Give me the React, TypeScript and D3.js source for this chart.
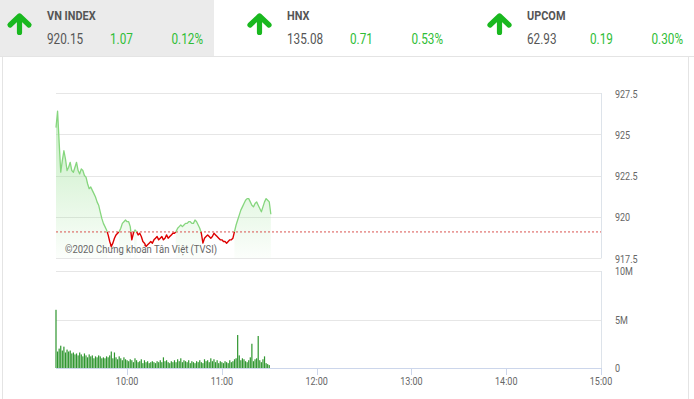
import React from "react";
import * as d3 from "d3";

// ---------- DATA ----------
const indexNames = ["VN INDEX", "HNX", "UPCOM"];
const indexValues = ["920.15", "135.08", "62.93"];
const indexChanges = ["1.07", "0.71", "0.19"];
const indexPercents = ["0.12%", "0.53%", "0.30%"];

const refPrice = 919.08;
const sessionStart = "09:15";
const sessionEnd = "15:00";
const dataStart = "09:15"; // one value per minute from this time

const priceValues = [
  925.4, 926.4, 924.5, 922.7, 923.4, 924.0, 923.5, 922.8, 923.0, 923.3,
  922.8, 922.7, 923.0, 923.3, 922.8, 922.6, 922.9, 922.8, 922.5, 922.4,
  922.0, 921.7, 921.8, 921.6, 921.4, 921.2, 920.9, 920.7, 920.3, 919.9,
  919.6, 919.4, 919.2, 918.9, 918.5, 918.2, 918.4, 918.7, 918.9, 919.0,
  919.1, 919.3, 919.6, 919.7, 919.8, 919.7, 919.7, 919.4, 918.6, 919.0,
  919.2, 919.1, 918.9, 919.0, 918.8, 918.5, 918.4, 918.2, 918.3, 918.4,
  918.5, 918.4, 918.6, 918.7, 918.8, 918.6, 918.7, 918.8, 918.6, 918.7,
  918.9, 918.7, 918.8, 918.9, 919.0, 919.0, 919.1, 919.3, 919.4, 919.5,
  919.4, 919.5, 919.6, 919.6, 919.7, 919.7, 919.6, 919.6, 919.8, 919.7,
  919.5, 919.3, 919.0, 918.4, 918.7, 918.8, 918.9, 918.8, 918.7, 918.8,
  919.0, 918.9, 918.8, 918.7, 918.6, 918.6, 918.5, 918.5, 918.4, 918.5,
  918.6, 918.6, 918.7, 919.1, 919.5, 919.8, 920.1, 920.4, 920.6, 920.8,
  921.0, 921.1, 921.1, 920.9, 920.7, 920.6, 920.8, 920.9, 920.7, 920.5,
  920.3, 920.6, 920.9, 921.1, 921.0, 920.9, 920.15,
];

// volume in millions, one bar per minute from dataStart
const volumeValues = [
  6.0,
  1.7, 2.0, 2.3, 1.8, 2.2, 1.6, 1.9, 1.7, 1.8, 1.5, 1.6, 1.4, 1.5, 1.3, 1.6,
  1.4, 1.2, 1.5, 1.3, 1.1, 1.4, 1.2, 1.3, 1.0, 1.2, 1.1, 1.3, 1.2, 1.0, 1.1,
  1.0, 1.2, 1.1, 1.3, 1.7, 1.0, 1.6, 1.1, 0.9, 1.2, 1.0, 0.8, 1.1, 0.9, 0.8,
  0.7, 0.9, 0.8, 0.6, 1.0, 0.8, 0.6, 0.7, 0.9, 0.5, 0.8, 0.6, 0.7, 0.5, 0.6,
  0.7, 0.6, 0.5, 0.7, 0.6, 0.8, 0.6, 1.1, 0.7, 0.8, 0.6, 0.5, 0.7, 0.6, 0.8,
  0.6, 0.9, 0.7, 1.0, 0.6, 0.8, 0.7, 0.6, 0.8, 0.5, 0.7, 0.6, 0.5, 0.7, 0.6,
  0.8, 0.6, 0.5, 0.9, 0.7, 0.8, 0.6, 1.0, 0.7, 0.9, 0.6, 0.8, 0.5, 0.7, 0.6,
  0.5, 0.7, 0.6, 0.5, 0.8, 0.6, 0.7, 0.9, 1.0, 3.4, 1.3, 0.8, 1.0, 0.9, 0.7,
  0.6, 0.8, 1.1, 2.5, 0.7, 0.9, 1.0, 3.3, 0.8, 0.6, 0.9, 1.2, 0.5, 0.4, 0.3,
];

const timeTicks = ["10:00", "11:00", "12:00", "13:00", "14:00", "15:00"];
const priceTicks = [917.5, 920, 922.5, 925, 927.5];
const volumeTicks = [0, 5, 10];
const volumeTickLabels = ["0", "5M", "10M"];
const watermark = "©2020 Chứng khoán Tân Việt (TVSI)";

// ---------- HELPERS ----------
const toMin = (s: string) => {
  const [h, m] = s.split(":").map(Number);
  return h * 60 + m;
};

const FONT = "Roboto, 'Noto Sans', sans-serif";
const GREEN = "#2fbd36";
const ARROW = "#19b81f";
const LINE_GREEN = "#86d67e";
const LINE_RED = "#dd0000";

function CText(props: any) {
  const { x, y, sx = 0.86, anchor = "start", children, ...rest } = props;
  return (
    <text
      transform={`translate(${x},${y}) scale(${sx},1)`}
      textAnchor={anchor}
      fontFamily={FONT}
      {...rest}
    >
      {children}
    </text>
  );
}

export default function App() {
  const W = 694;
  const H = 399;

  const x = d3
    .scaleLinear()
    .domain([toMin(sessionStart), toMin(sessionEnd)])
    .range([56, 601]);
  const yP = d3.scaleLinear().domain([917.5, 927.5]).range([258, 93]);
  const yV = d3.scaleLinear().domain([0, 10]).range([368, 271]);

  const t0 = toMin(dataStart);
  const pts: [number, number][] = priceValues.map((v, i) => [t0 + i, v]);

  // split into above/below ref segments with interpolated crossings
  type Seg = { up: boolean; pts: [number, number][] };
  const segs: Seg[] = [];
  let cur: Seg = { up: pts[0][1] >= refPrice, pts: [pts[0]] };
  for (let i = 1; i < pts.length; i++) {
    const a = pts[i - 1];
    const b = pts[i];
    const up = b[1] >= refPrice;
    if (up !== cur.up) {
      const f = (refPrice - a[1]) / (b[1] - a[1]);
      const c: [number, number] = [a[0] + f * (b[0] - a[0]), refPrice];
      cur.pts.push(c);
      segs.push(cur);
      cur = { up, pts: [c] };
    }
    cur.pts.push(b);
  }
  segs.push(cur);

  const line = d3
    .line<[number, number]>()
    .x((d) => x(d[0]))
    .y((d) => yP(d[1]));
  const area = d3
    .area<[number, number]>()
    .x((d) => x(d[0]))
    .y0(yP(917.5))
    .y1((d) => yP(d[1]));

  const nameX = [47, 287, 527];

  const arrowPath = (cx: number) =>
    `M${cx - 9.5},${25} L${cx},${16} L${cx + 9.5},${25} M${cx},${17} L${cx},${32.5}`;

  return (
    <svg
      width={W}
      height={H}
      style={{ position: "absolute", left: 0, top: 0, background: "#fff" }}
    >
      <defs>
        <linearGradient id="gfill" gradientUnits="userSpaceOnUse" x1="0" y1="100" x2="0" y2="258">
          <stop offset="0" stopColor="#8bdc85" stopOpacity={0.55} />
          <stop offset="1" stopColor="#8bdc85" stopOpacity={0.03} />
        </linearGradient>
      </defs>

      {/* header */}
      <rect x={0} y={0} width={214} height={56.5} fill="#ebebeb" />
      <line x1={0} x2={W} y1={56.5} y2={56.5} stroke="#e4e4e4" />
      {indexNames.map((n, i) => {
        const nx = nameX[i];
        return (
          <g key={n}>
            <path
              d={arrowPath(nx - 27.5)}
              fill="none"
              stroke={ARROW}
              strokeWidth={5.2}
              strokeLinecap="round"
              strokeLinejoin="round"
            />
            <CText x={nx} y={20} fontSize={13} fontWeight="bold" fill="#555" sx={0.84}>
              {n}
            </CText>
            <CText x={nx} y={43.5} fontSize={14} fill="#555" sx={0.84}>
              {indexValues[i]}
            </CText>
            <CText x={nx + 63} y={43.5} fontSize={14} fill={GREEN} sx={0.84}>
              {indexChanges[i]}
            </CText>
            <CText x={nx + 156} y={43.5} fontSize={14} fill={GREEN} sx={0.84} anchor="end">
              {indexPercents[i]}
            </CText>
          </g>
        );
      })}

      {/* panel border */}
      <line x1={2.5} x2={2.5} y1={57} y2={H} stroke="#e4e4e4" />
      <line x1={688.5} x2={688.5} y1={57} y2={H} stroke="#e4e4e4" />

      {/* price grid */}
      {priceTicks.map((v) => (
        <g key={v}>
          <line x1={56} x2={601.5} y1={Math.round(yP(v)) + 0.5} y2={Math.round(yP(v)) + 0.5} stroke="#e6e6e6" />
          <CText x={615} y={yP(v) + 4.5} fontSize={10} fill="#666" sx={0.9}>
            {String(v)}
          </CText>
        </g>
      ))}
      <line x1={601.5} x2={601.5} y1={93} y2={258} stroke="#dde3ea" />

      {/* area fill (green segments) */}
      {segs
        .filter((s) => s.up)
        .map((s, i) => (
          <path key={"a" + i} d={area(s.pts) || ""} fill="url(#gfill)" />
        ))}

      {/* watermark */}
      <CText x={65} y={253} fontSize={11} fill="#666" sx={0.86}>
        {watermark}
      </CText>

      {/* reference line */}
      <line
        x1={56}
        x2={601}
        y1={yP(refPrice)}
        y2={yP(refPrice)}
        stroke="#d9534f"
        strokeWidth={1}
        strokeDasharray="2,2"
      />

      {/* price line */}
      {segs.map((s, i) => (
        <path
          key={"l" + i}
          d={line(s.pts) || ""}
          fill="none"
          stroke={s.up ? LINE_GREEN : LINE_RED}
          strokeWidth={s.up ? 1.3 : 1.4}
          strokeLinejoin="round"
        />
      ))}

      {/* volume grid */}
      {volumeTicks.map((v, i) => (
        <g key={"v" + v}>
          {v > 0 && (
            <line x1={56} x2={601.5} y1={Math.round(yV(v)) + 0.5} y2={Math.round(yV(v)) + 0.5} stroke="#e6e6e6" />
          )}
          <CText x={615} y={yV(v) + 4} fontSize={10} fill="#666" sx={0.9}>
            {volumeTickLabels[i]}
          </CText>
        </g>
      ))}
      <line x1={601.5} x2={601.5} y1={271} y2={368} stroke="#dde3ea" />

      {/* volume bars */}
      {volumeValues.map((v, i) => (
        <rect
          key={"b" + i}
          x={x(t0 + i) - 0.6}
          width={1.2}
          y={yV(v)}
          height={yV(0) - yV(v)}
          fill="#2f962f"
        />
      ))}

      {/* x axis */}
      <line x1={56} x2={601.5} y1={368.5} y2={368.5} stroke="#ccd6eb" />
      {timeTicks.map((t) => (
        <g key={t}>
          <line x1={Math.round(x(toMin(t))) + 0.5} x2={Math.round(x(toMin(t))) + 0.5} y1={368} y2={375} stroke="#ccd6eb" />
          <CText x={x(toMin(t))} y={385} fontSize={10.5} fill="#666" sx={0.86} anchor="middle">
            {t}
          </CText>
        </g>
      ))}
    </svg>
  );
}
